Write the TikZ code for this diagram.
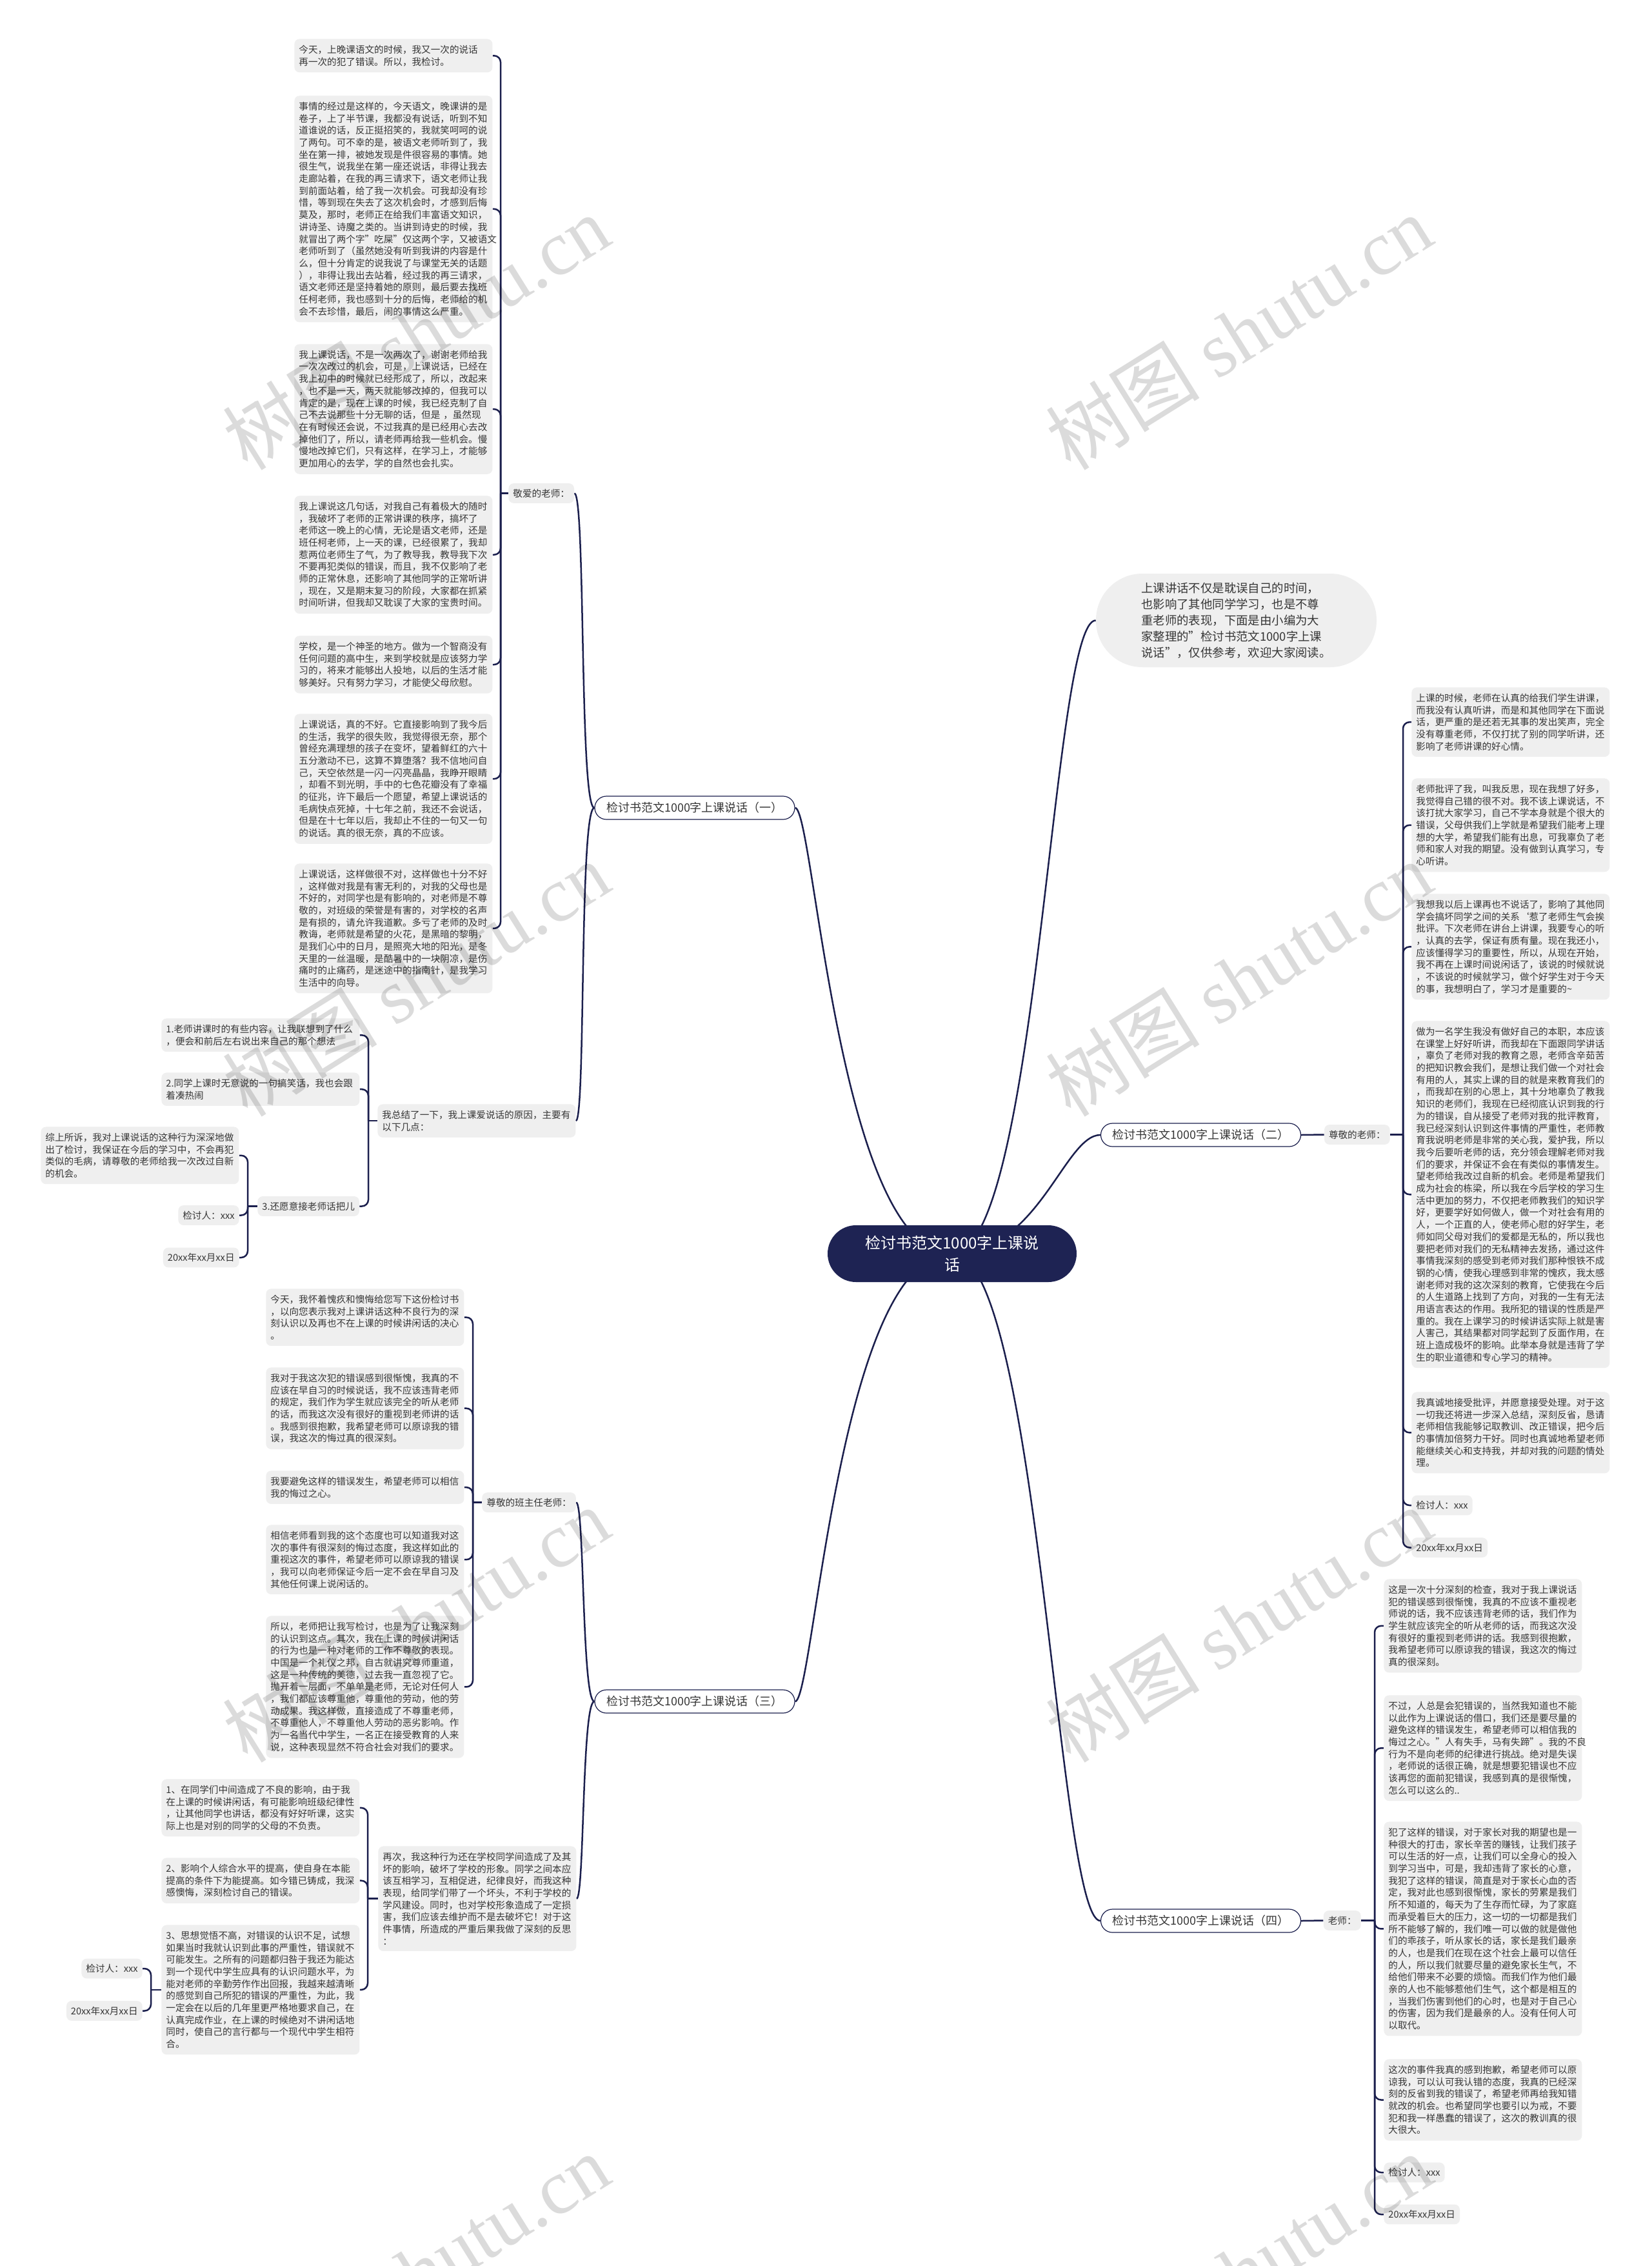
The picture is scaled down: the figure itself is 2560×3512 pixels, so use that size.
\documentclass[tikz,border=0pt]{standalone}
\usepackage{fontspec}
\setmainfont{Noto Sans CJK SC}
\newfontfamily\wmserif{Liberation Serif}
\usetikzlibrary{backgrounds}
\definecolor{linecol}{HTML}{1B1F4D}
\definecolor{boxgray}{HTML}{EFEFEF}
\definecolor{txtcol}{HTML}{363636}
\definecolor{rootcol}{HTML}{1E2353}
\begin{document}
\begin{tikzpicture}[x=0.5pt,y=-0.5pt,
  tb/.style={fill=boxgray, rounded corners=4pt, inner xsep=3.5pt, inner ysep=4.8pt, text=txtcol, font=\fontsize{7.3pt}{9.35pt}\selectfont, align=left, text width=146.5pt, anchor=north west},
  lb/.style={fill=boxgray, rounded corners=4pt, inner xsep=3.5pt, inner ysep=4.3pt, text=txtcol, font=\fontsize{7.3pt}{9.35pt}\selectfont},
  hub/.style={fill=white, draw=linecol, line width=0.6pt, rounded corners=9pt, minimum width=155pt, minimum height=18pt, inner sep=0pt, text=txtcol, font=\fontsize{9pt}{11pt}\selectfont},
  rootbox/.style={fill=rootcol, text=white, rounded corners=22pt, minimum width=193pt, minimum height=44pt, align=center, font=\fontsize{12pt}{17pt}\selectfont},
  introbox/.style={fill=boxgray, text=txtcol, rounded corners=36pt, minimum width=217.5pt, minimum height=72.5pt, align=left, font=\fontsize{9.2pt}{12.5pt}\selectfont},
  conn/.style={draw=linecol, line width=1.25pt, rounded corners=5pt},
  curve/.style={draw=linecol, line width=1.25pt},
  wm/.style={rotate=32, text=black, text opacity=0.14, font=\fontsize{60pt}{66pt}\selectfont}
]
\useasboundingbox (0,0) rectangle (2560,3512);

% ---------- root, intro, hubs ----------
\node[rootbox] (root) at (1476,1943) {检讨书范文1000字上课说\\话};
\node[introbox] (intro) at (1916.5,961.5) {上课讲话不仅是耽误自己的时间，\\也影响了其他同学学习，也是不尊\\重老师的表现，下面是由小编为大\\家整理的"检讨书范文1000字上课\\说话"，仅供参考，欢迎大家阅读。};
\node[hub] (h1) at (1077,1252) {检讨书范文1000字上课说话（一）};
\node[hub] (h2) at (1861.5,1759) {检讨书范文1000字上课说话（二）};
\node[hub] (h3) at (1077,2637) {检讨书范文1000字上课说话（三）};
\node[hub] (h4) at (1861.5,2977) {检讨书范文1000字上课说话（四）};

% ---------- section 1 ----------
\node[lb, anchor=west] (ja) at (788,764.5) {敬爱的老师：};
\node[tb] (l1) at (456,60) {今天，上晚课语文的时候，我又一次的说话\\再一次的犯了错误。所以，我检讨。};
\node[tb] (l2) at (456,148) {事情的经过是这样的，今天语文，晚课讲的是\\卷子，上了半节课，我都没有说话，听到不知\\道谁说的话，反正挺招笑的，我就笑呵呵的说\\了两句。可不幸的是，被语文老师听到了，我\\坐在第一排，被她发现是件很容易的事情。她\\很生气，说我坐在第一座还说话，非得让我去\\走廊站着，在我的再三请求下，语文老师让我\\到前面站着，给了我一次机会。可我却没有珍\\惜，等到现在失去了这次机会时，才感到后悔\\莫及，那时，老师正在给我们丰富语文知识，\\讲诗圣、诗魔之类的。当讲到诗史的时候，我\\就冒出了两个字"吃屎"仅这两个字，又被语文\\老师听到了（虽然她没有听到我讲的内容是什\\么，但十分肯定的说我说了与课堂无关的话题\\），非得让我出去站着，经过我的再三请求，\\语文老师还是坚持着她的原则，最后要去找班\\任柯老师，我也感到十分的后悔，老师给的机\\会不去珍惜，最后，闹的事情这么严重。};
\node[tb] (l3) at (456,533) {我上课说话，不是一次两次了，谢谢老师给我\\一次次改过的机会，可是，上课说话，已经在\\我上初中的时候就已经形成了，所以，改起来\\，也不是一天，两天就能够改掉的，但我可以\\肯定的是，现在上课的时候，我已经克制了自\\己不去说那些十分无聊的话，但是 ，虽然现\\在有时候还会说，不过我真的是已经用心去改\\掉他们了，所以，请老师再给我一些机会。慢\\慢地改掉它们，只有这样，在学习上，才能够\\更加用心的去学，学的自然也会扎实。};
\node[tb] (l4) at (456,768) {我上课说这几句话，对我自己有着极大的随时\\，我破坏了老师的正常讲课的秩序，搞坏了\\老师这一晚上的心情，无论是语文老师，还是\\班任柯老师，上一天的课，已经很累了，我却\\惹两位老师生了气，为了教导我，教导我下次\\不要再犯类似的错误，而且，我不仅影响了老\\师的正常休息，还影响了其他同学的正常听讲\\，现在，又是期末复习的阶段，大家都在抓紧\\时间听讲，但我却又耽误了大家的宝贵时间。};
\node[tb] (l5) at (456,985) {学校，是一个神圣的地方。做为一个智商没有\\任何问题的高中生，来到学校就是应该努力学\\习的，将来才能够出人投地，以后的生活才能\\够美好。只有努力学习，才能使父母欣慰。};
\node[tb] (l6) at (456,1106) {上课说话，真的不好。它直接影响到了我今后\\的生活，我学的很失败，我觉得很无奈，那个\\曾经充满理想的孩子在变坏，望着鲜红的六十\\五分激动不已，这算不算堕落？我不信地问自\\己，天空依然是一闪一闪亮晶晶，我睁开眼睛\\，却看不到光明，手中的七色花瓣没有了幸福\\的征兆，许下最后一个愿望，希望上课说话的\\毛病快点死掉，十七年之前，我还不会说话，\\但是在十七年以后，我却止不住的一句又一句\\的说话。真的很无奈，真的不应该。};
\node[tb] (l7) at (456,1338) {上课说话，这样做很不对，这样做也十分不好\\，这样做对我是有害无利的，对我的父母也是\\不好的，对同学也是有影响的，对老师是不尊\\敬的，对班级的荣誉是有害的，对学校的名声\\是有损的，请允许我道歉。多亏了老师的及时\\教诲，老师就是希望的火花，是黑暗的黎明，\\是我们心中的日月，是照亮大地的阳光，是冬\\天里的一丝温暖，是酷暑中的一块阴凉，是伤\\痛时的止痛药，是迷途中的指南针，是我学习\\生活中的向导。};

\node[tb] (zj) at (585,1711) {我总结了一下，我上课爱说话的原因，主要有\\以下几点：};
\node[tb] (k1) at (250,1578) {1.老师讲课时的有些内容，让我联想到了什么\\，便会和前后左右说出来自己的那个想法};
\node[tb] (k2) at (250,1662) {2.同学上课时无意说的一句搞笑话，我也会跟\\着凑热闹};
\node[lb, anchor=west] (hb) at (399,1869.5) {3.还愿意接老师话把儿};
\node[tb] (zs) at (63,1746) {综上所诉，我对上课说话的这种行为深深地做\\出了检讨，我保证在今后的学习中，不会再犯\\类似的毛病，请尊敬的老师给我一次改过自新\\的机会。};
\node[lb, anchor=east] (jt1) at (371,1883.5) {检讨人：xxx};
\node[lb, anchor=east] (dt1) at (371,1949) {20xx年xx月xx日};

% ---------- section 3 ----------
\node[lb, anchor=west] (bz) at (747,2328.5) {尊敬的班主任老师：};
\node[tb] (a1) at (412,1997) {今天，我怀着愧疚和懊悔给您写下这份检讨书\\，以向您表示我对上课讲话这种不良行为的深\\刻认识以及再也不在上课的时候讲闲话的决心\\。};
\node[tb] (a2) at (412,2119) {我对于我这次犯的错误感到很惭愧，我真的不\\应该在早自习的时候说话，我不应该违背老师\\的规定，我们作为学生就应该完全的听从老师\\的话，而我这次没有很好的重视到老师讲的话\\。我感到很抱歉，我希望老师可以原谅我的错\\误，我这次的悔过真的很深刻。};
\node[tb] (a3) at (412,2279) {我要避免这样的错误发生，希望老师可以相信\\我的悔过之心。};
\node[tb] (a4) at (412,2363) {相信老师看到我的这个态度也可以知道我对这\\次的事件有很深刻的悔过态度，我这样如此的\\重视这次的事件，希望老师可以原谅我的错误\\，我可以向老师保证今后一定不会在早自习及\\其他任何课上说闲话的。};
\node[tb] (a5) at (412,2504) {所以，老师把让我写检讨，也是为了让我深刻\\的认识到这点。其次，我在上课的时候讲闲话\\的行为也是一种对老师的工作不尊敬的表现。\\中国是一个礼仪之邦，自古就讲究尊师重道，\\这是一种传统的美德，过去我一直忽视了它。\\抛开着一层面，不单单是老师，无论对任何人\\，我们都应该尊重他，尊重他的劳动，他的劳\\动成果。我这样做，直接造成了不尊重老师，\\不尊重他人，不尊重他人劳动的恶劣影响。作\\为一名当代中学生，一名正在接受教育的人来\\说，这种表现显然不符合社会对我们的要求。};

\node[tb] (zc) at (586,2861) {再次，我这种行为还在学校同学间造成了及其\\坏的影响，破坏了学校的形象。同学之间本应\\该互相学习，互相促进，纪律良好，而我这种\\表现，给同学们带了一个坏头，不利于学校的\\学风建设。同时，也对学校形象造成了一定损\\害，我们应该去维护而不是去破坏它！对于这\\件事情，所造成的严重后果我做了深刻的反思\\：};
\node[tb] (p1) at (250,2757) {1、在同学们中间造成了不良的影响，由于我\\在上课的时候讲闲话，有可能影响班级纪律性\\，让其他同学也讲话，都没有好好听课，这实\\际上也是对别的同学的父母的不负责。};
\node[tb] (p2) at (250,2879) {2、影响个人综合水平的提高，使自身在本能\\提高的条件下为能提高。如今错已铸成，我深\\感懊悔，深刻检讨自己的错误。};
\node[tb] (p3) at (250,2983) {3、思想觉悟不高，对错误的认识不足，试想\\如果当时我就认识到此事的严重性，错误就不\\可能发生。之所有的问题都归咎于我还为能达\\到一个现代中学生应具有的认识问题水平，为\\能对老师的辛勤劳作作出回报，我越来越清晰\\的感觉到自己所犯的错误的严重性，为此，我\\一定会在以后的几年里更严格地要求自己，在\\认真完成作业，在上课的时候绝对不讲闲话地\\同时，使自己的言行都与一个现代中学生相符\\合。};
\node[lb, anchor=east] (jt3) at (221,3051) {检讨人：xxx};
\node[lb, anchor=east] (dt3) at (221,3116.5) {20xx年xx月xx日};

% ---------- section 2 ----------
\node[lb, anchor=east] (zl) at (2155,1758.5) {尊敬的老师：};
\node[tb] (r1) at (2188,1065) {上课的时候，老师在认真的给我们学生讲课，\\而我没有认真听讲，而是和其他同学在下面说\\话，更严重的是还若无其事的发出笑声，完全\\没有尊重老师，不仅打扰了别的同学听讲，还\\影响了老师讲课的好心情。};
\node[tb] (r2) at (2188,1206) {老师批评了我，叫我反思，现在我想了好多，\\我觉得自己错的很不对。我不该上课说话，不\\该打扰大家学习，自己不学本身就是个很大的\\错误，父母供我们上学就是希望我们能考上理\\想的大学，希望我们能有出息，可我辜负了老\\师和家人对我的期望。没有做到认真学习，专\\心听讲。};
\node[tb] (r3) at (2188,1385) {我想我以后上课再也不说话了，影响了其他同\\学会搞坏同学之间的关系‘惹了老师生气会挨\\批评。下次老师在讲台上讲课，我要专心的听\\，认真的去学，保证有质有量。现在我还小，\\应该懂得学习的重要性，所以，从现在开始，\\我不再在上课时间说闲话了，该说的时候就说\\，不该说的时候就学习，做个好学生对于今天\\的事，我想明白了，学习才是重要的\textasciitilde};
\node[tb] (r4) at (2188,1582) {做为一名学生我没有做好自己的本职，本应该\\在课堂上好好听讲，而我却在下面跟同学讲话\\，辜负了老师对我的教育之恩，老师含辛茹苦\\的把知识教会我们，是想让我们做一个对社会\\有用的人，其实上课的目的就是来教育我们的\\，而我却在别的心思上，其十分地辜负了教我\\知识的老师们，我现在已经彻底认识到我的行\\为的错误，自从接受了老师对我的批评教育，\\我已经深刻认识到这件事情的严重性，老师教\\育我说明老师是非常的关心我，爱护我，所以\\我今后要听老师的话，充分领会理解老师对我\\们的要求，并保证不会在有类似的事情发生。\\望老师给我改过自新的机会。老师是希望我们\\成为社会的栋梁，所以我在今后学校的学习生\\活中更加的努力，不仅把老师教我们的知识学\\好，更要学好如何做人，做一个对社会有用的\\人，一个正直的人，使老师心慰的好学生，老\\师如同父母对我们的爱都是无私的，所以我也\\要把老师对我们的无私精神去发扬，通过这件\\事情我深刻的感受到老师对我们那种恨铁不成\\钢的心情，使我心理感到非常的愧疚，我太感\\谢老师对我的这次深刻的教育，它使我在今后\\的人生道路上找到了方向，对我的一生有无法\\用语言表达的作用。我所犯的错误的性质是严\\重的。我在上课学习的时候讲话实际上就是害\\人害己，其结果都对同学起到了反面作用，在\\班上造成极坏的影响。此举本身就是违背了学\\生的职业道德和专心学习的精神。};
\node[tb] (r5) at (2188,2157) {我真诚地接受批评，并愿意接受处理。对于这\\一切我还将进一步深入总结，深刻反省，恳请\\老师相信我能够记取教训、改正错误，把今后\\的事情加倍努力干好。同时也真诚地希望老师\\能继续关心和支持我，并却对我的问题酌情处\\理。};
\node[lb, anchor=west] (jt2) at (2188,2333) {检讨人：xxx};
\node[lb, anchor=west] (dt2) at (2188,2398.5) {20xx年xx月xx日};

% ---------- section 4 ----------
\node[lb, anchor=east] (ls) at (2110,2976.5) {老师：};
\node[tb] (s1) at (2145,2447) {这是一次十分深刻的检查，我对于我上课说话\\犯的错误感到很惭愧，我真的不应该不重视老\\师说的话，我不应该违背老师的话，我们作为\\学生就应该完全的听从老师的话，而我这次没\\有很好的重视到老师讲的话。我感到很抱歉，\\我希望老师可以原谅我的错误，我这次的悔过\\真的很深刻。};
\node[tb] (s2) at (2145,2627) {不过，人总是会犯错误的，当然我知道也不能\\以此作为上课说话的借口，我们还是要尽量的\\避免这样的错误发生，希望老师可以相信我的\\悔过之心。"人有失手，马有失蹄"。我的不良\\行为不是向老师的纪律进行挑战。绝对是失误\\，老师说的话很正确，就是想要犯错误也不应\\该再您的面前犯错误，我感到真的是很惭愧，\\怎么可以这么的..};
\node[tb] (s3) at (2145,2823) {犯了这样的错误，对于家长对我的期望也是一\\种很大的打击，家长辛苦的赚钱，让我们孩子\\可以生活的好一点，让我们可以全身心的投入\\到学习当中，可是，我却违背了家长的心意，\\我犯了这样的错误，简直是对于家长心血的否\\定，我对此也感到很惭愧，家长的劳累是我们\\所不知道的，每天为了生存而忙碌，为了家庭\\而承受着巨大的压力，这一切的一切都是我们\\所不能够了解的，我们唯一可以做的就是做他\\们的乖孩子，听从家长的话，家长是我们最亲\\的人，也是我们在现在这个社会上最可以信任\\的人，所以我们就要尽量的避免家长生气，不\\给他们带来不必要的烦恼。而我们作为他们最\\亲的人也不能够惹他们生气，这个都是相互的\\，当我们伤害到他们的心时，也是对于自己心\\的伤害，因为我们是最亲的人。没有任何人可\\以取代。};
\node[tb] (s4) at (2145,3191) {这次的事件我真的感到抱歉，希望老师可以原\\谅我，可以认可我认错的态度，我真的已经深\\刻的反省到我的错误了，希望老师再给我知错\\就改的机会。也希望同学也要引以为戒，不要\\犯和我一样愚蠢的错误了，这次的教训真的很\\大很大。};
\node[lb, anchor=west] (jt4) at (2145,3367) {检讨人：xxx};
\node[lb, anchor=west] (dt4) at (2145,3432) {20xx年xx月xx日};

% ---------- connectors ----------
\begin{pgfonlayer}{background}
\fill[white] (0,0) rectangle (2560,3512);
\draw[curve] (root.center) .. controls (1300,1943) and (1262,1252) .. (h1.east);
\draw[curve] (root.center) .. controls (1300,1943) and (1262,2637) .. (h3.east);
\draw[curve] (root.center) .. controls (1610,1943) and (1630,961.5) .. (intro.west);
\draw[curve] (root.center) .. controls (1610,1943) and (1650,1759) .. (h2.west);
\draw[curve] (root.center) .. controls (1610,1943) and (1640,2977) .. (h4.west);

\draw[curve] (h1.west) .. controls (898,1252) and (908,764.5) .. (ja.east);
\draw[curve] (h1.west) .. controls (898,1252) and (908,1736) .. (zj.west -| zj.east);
\draw[curve] (h3.west) .. controls (902,2637) and (906,2328.5) .. (bz.east);
\draw[curve] (h3.west) .. controls (902,2637) and (906,2943.5) .. (zc.east);
\draw[curve] (h2.east) -- (zl.west);
\draw[curve] (h4.east) -- (ls.west);

\path (ja.west) ++(-12,0) coordinate (jaS);
\foreach \c in {l1,l2,l3,l4,l5,l6,l7} {\draw[conn] (\c.east) -| (jaS);}
\draw[conn] (jaS) -- (ja.west);

\path (zj.west) ++(-14,0) coordinate (zjS);
\foreach \c in {k1,k2,hb} {\draw[conn] (\c.east) -| (zjS);}
\draw[conn] (zjS) -- (zj.west);

\path (hb.west) ++(-15,0) coordinate (hbS);
\foreach \c in {zs,jt1,dt1} {\draw[conn] (\c.east) -| (hbS);}
\draw[conn] (hbS) -- (hb.west);

\path (bz.west) ++(-14,0) coordinate (bzS);
\foreach \c in {a1,a2,a3,a4,a5} {\draw[conn] (\c.east) -| (bzS);}
\draw[conn] (bzS) -- (bz.west);

\path (zc.west) ++(-16,0) coordinate (zcS);
\foreach \c in {p1,p2,p3} {\draw[conn] (\c.east) -| (zcS);}
\draw[conn] (zcS) -- (zc.west);

\path (p3.west) ++(-16,0) coordinate (p3S);
\foreach \c in {jt3,dt3} {\draw[conn] (\c.east) -| (p3S);}
\draw[conn] (p3S) -- (p3.west);

\path (zl.east) ++(20,0) coordinate (zlS);
\foreach \c in {r1,r2,r3,r4,r5,jt2,dt2} {\draw[conn] (\c.west) -| (zlS);}
\draw[conn] (zlS) -- (zl.east);

\path (ls.east) ++(21,0) coordinate (lsS);
\foreach \c in {s1,s2,s3,s4,jt4,dt4} {\draw[conn] (\c.west) -| (lsS);}
\draw[conn] (lsS) -- (ls.east);
\end{pgfonlayer}

% ---------- watermarks ----------
\node[wm] (wm1) at (645,515) {树图 {\wmserif shutu.cn}};
\node[wm] (wm2) at (1920,515) {树图 {\wmserif shutu.cn}};
\node[wm] (wm3) at (645,1517) {树图 {\wmserif shutu.cn}};
\node[wm] (wm4) at (1920,1517) {树图 {\wmserif shutu.cn}};
\node[wm] (wm5) at (645,2518) {树图 {\wmserif shutu.cn}};
\node[wm] (wm6) at (1920,2518) {树图 {\wmserif shutu.cn}};
\node[wm] (wm7) at (645,3520) {树图 {\wmserif shutu.cn}};
\node[wm] (wm8) at (1920,3520) {树图 {\wmserif shutu.cn}};
\end{tikzpicture}
\end{document}
